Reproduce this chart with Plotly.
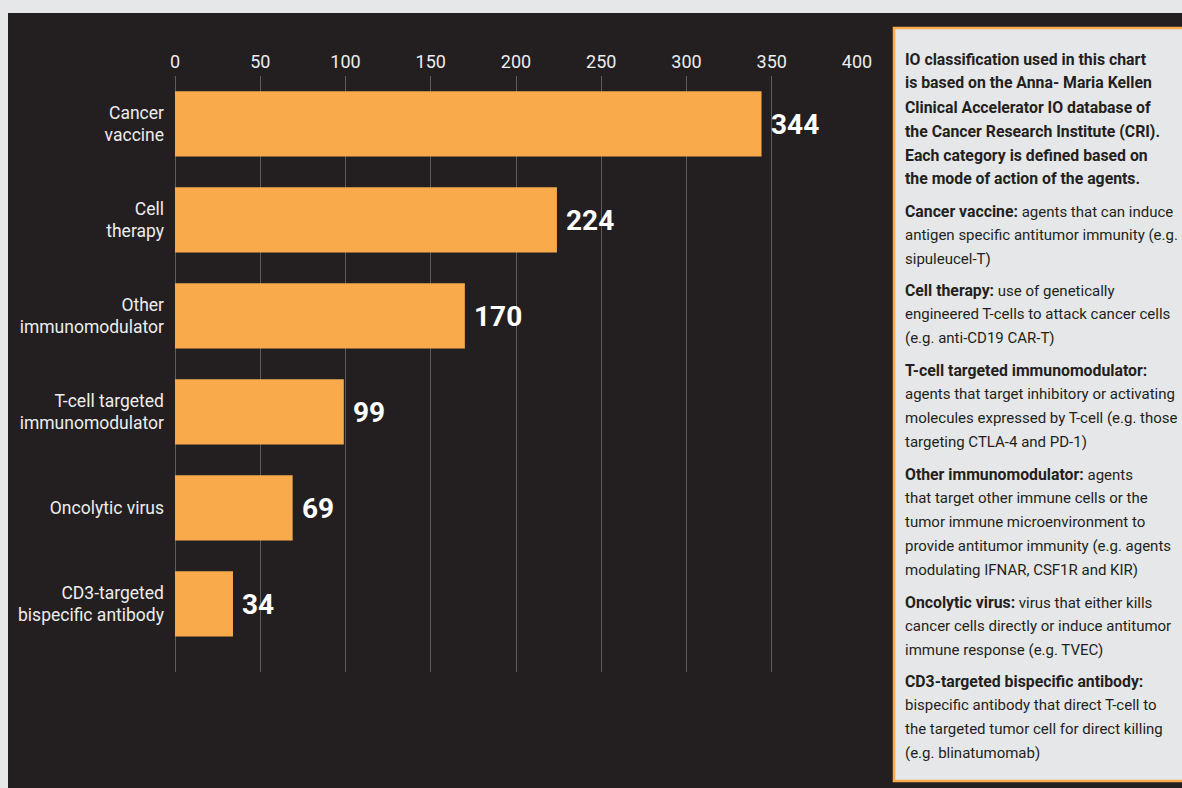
import plotly.graph_objects as go

# ---- data ----
categories = ["Cancer<br>vaccine", "Cell<br>therapy", "Other<br>immunomodulator",
              "T-cell targeted<br>immunomodulator", "Oncolytic virus",
              "CD3-targeted<br>bispecific antibody"]
counts = [344, 224, 170, 99, 69, 34]
tick_vals = [0, 50, 100, 150, 200, 250, 300, 350, 400]

# (bold part, regular part, vertical pixel position)
info_lines = [
    ("IO classification used in this chart", "", 59),
    ("is based on the Anna- Maria Kellen", "", 83),
    ("Clinical Accelerator IO database of", "", 107),
    ("the Cancer Research Institute (CRI).", "", 131),
    ("Each category is defined based on", "", 155),
    ("the mode of action of the agents.", "", 179),
    ("Cancer vaccine:", " agents that can induce", 211),
    ("", "antigen specific antitumor immunity (e.g.", 235),
    ("", "sipuleucel-T)", 259),
    ("Cell therapy:", " use of genetically", 290),
    ("", "engineered T-cells to attack cancer cells", 314),
    ("", "(e.g. anti-CD19 CAR-T)", 338),
    ("T-cell targeted immunomodulator:", "", 370),
    ("", "agents that target inhibitory or activating", 394),
    ("", "molecules expressed by T-cell (e.g. those", 418),
    ("", "targeting CTLA-4 and PD-1)", 442),
    ("Other immunomodulator:", " agents", 474),
    ("", "that target other immune cells or the", 498),
    ("", "tumor immune microenvironment to", 522),
    ("", "provide antitumor immunity (e.g. agents", 546),
    ("", "modulating IFNAR, CSF1R and KIR)", 570),
    ("Oncolytic virus:", " virus that either kills", 602),
    ("", "cancer cells directly or induce antitumor", 626),
    ("", "immune response (e.g. TVEC)", 650),
    ("CD3-targeted bispecific antibody:", "", 681),
    ("", "bispecific antibody that direct T-cell to", 705),
    ("", "the targeted tumor cell for direct killing", 729),
    ("", "(e.g. blinatumomab)", 753),
]

# ---- layout geometry ----
W, H = 1182, 788
L, R, T, B = 175, 325, 76, 116
PW, PH = W - L - R, H - T - B

def px(x):
    return (x - L) / PW

def py(y):
    return 1 - (y - T) / PH

FONT = "Roboto, Liberation Sans, Arial, sans-serif"
BAR = "#F9AB4B"
DARK = "#231F20"
LIGHT = "#E6E7E8"

fig = go.Figure(go.Bar(
    x=counts, y=categories, orientation="h",
    marker=dict(color=BAR, line=dict(width=0)),
    width=0.68,
    hoverinfo="x+y",
))

shapes = [
    dict(type="rect", xref="paper", yref="paper", x0=px(8), x1=px(W + 10),
         y0=py(13), y1=py(H + 10), fillcolor=DARK, line=dict(width=0), layer="below"),
    dict(type="rect", xref="paper", yref="paper", x0=px(894), x1=px(W + 10),
         y0=py(28), y1=py(781), fillcolor=LIGHT,
         line=dict(color=BAR, width=2.5), layer="above"),
]

annotations = []
# value labels at the end of each bar
for cat, val in zip(categories, counts):
    annotations.append(dict(
        text=f"<b>{val}</b>", x=val, y=cat, xref="x", yref="y",
        xanchor="left", yanchor="middle", xshift=7, yshift=-1, showarrow=False,
        font=dict(family=FONT, size=28, color="white"),
    ))
# info box text
for bold, regular, yy in info_lines:
    txt = ""
    if bold:
        txt += f'<span style="font-size:15.8px"><b>{bold}</b></span>'
    txt += regular
    annotations.append(dict(
        text=txt, xref="paper", yref="paper", x=px(903), y=py(yy),
        xanchor="left", yanchor="middle", showarrow=False, align="left",
        font=dict(family=FONT, size=15, color=DARK),
    ))

fig.update_layout(
    width=W, height=H,
    margin=dict(l=L, r=R, t=T, b=B, pad=0),
    paper_bgcolor=LIGHT, plot_bgcolor=DARK,
    showlegend=False,
    font=dict(family=FONT, color="#EDEDED"),
    xaxis=dict(side="top", range=[0, 400], tickvals=tick_vals,
               showgrid=True, gridcolor="#5E5E5E", gridwidth=1.2,
               zeroline=True, zerolinecolor="#5E5E5E", zerolinewidth=1.2,
               showline=False, ticks="", ticklabelstandoff=3,
               tickfont=dict(family=FONT, size=18, color="#EDEDED"),
               fixedrange=True),
    yaxis=dict(type="category", autorange=False, range=[5.71, -0.5],
               showgrid=False, zeroline=False, showline=False, ticks="",
               ticklabelstandoff=10,
               tickfont=dict(family=FONT, size=17.5, color="#EDEDED"),
               fixedrange=True),
    shapes=shapes,
    annotations=annotations,
)

fig.write_html("out.html")
